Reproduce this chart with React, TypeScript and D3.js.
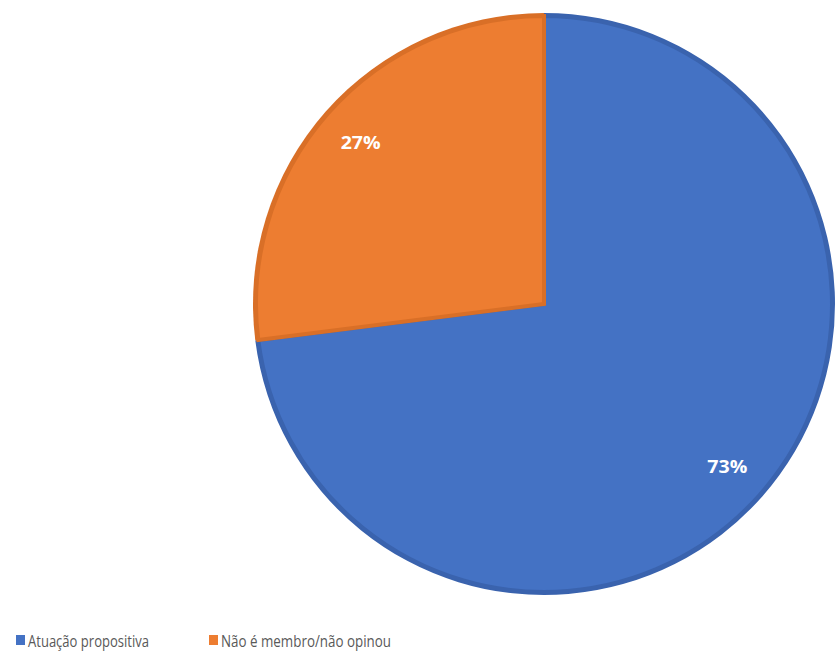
import React from "react";
import * as d3 from "d3";

const categories = ["Atuação propositiva", "Não é membro/não opinou"];
const values = [73, 27];
const colors = ["#4472C4", "#ED7D31"];
const strokeColors = ["#3A63AE", "#D96F27"];

export default function App() {
  const W = 838, H = 656;
  const cx = 544, cy = 304, r = 291;
  const pie = d3.pie<number>().sort(null).value((d) => d)(values);
  const arc = d3.arc<d3.PieArcDatum<number>>().innerRadius(0).outerRadius(r);
  const inner = d3.arc<d3.PieArcDatum<number>>().innerRadius(0).outerRadius(r - 3);
  const labelArc = d3.arc<d3.PieArcDatum<number>>().innerRadius(r * 0.84).outerRadius(r * 0.84);
  const total = d3.sum(values);
  const legendX = [16, 209];
  return (
    <svg width={W} height={H} style={{ position: "absolute", left: 0, top: 0, display: "block" }}
      fontFamily="'Open Sans', 'Liberation Sans', sans-serif">
      <rect width={W} height={H} fill="#fff" />
      <g transform={`translate(${cx},${cy})`}>
        {pie.map((p, i) => (
          <g key={i}>
            <path d={arc(p) ?? ""} fill={strokeColors[i]} />
            <path d={inner(p) ?? ""} fill={colors[i]} stroke={strokeColors[i]} strokeWidth={4} strokeLinejoin="miter" />
          </g>
        ))}
        {pie.map((p, i) => {
          const [x, y] = labelArc.centroid(p);
          return (
            <text key={"l" + i} x={x} y={y} textAnchor="middle" dominantBaseline="central"
              fill="#fff" fontWeight="bold" fontSize={18} textLength={40} lengthAdjust="spacingAndGlyphs">
              {Math.round((p.value / total) * 100)}%
            </text>
          );
        })}
      </g>
      {categories.map((c, i) => (
        <g key={c} transform={`translate(${legendX[i]},635)`}>
          <rect x={0} y={0} width={9} height={10} fill={colors[i]} />
          <text x={12} y={5} dominantBaseline="central" fontSize={17} fill="#595959"
            textLength={i === 0 ? 121 : 170} lengthAdjust="spacingAndGlyphs">
            {c}
          </text>
        </g>
      ))}
    </svg>
  );
}
